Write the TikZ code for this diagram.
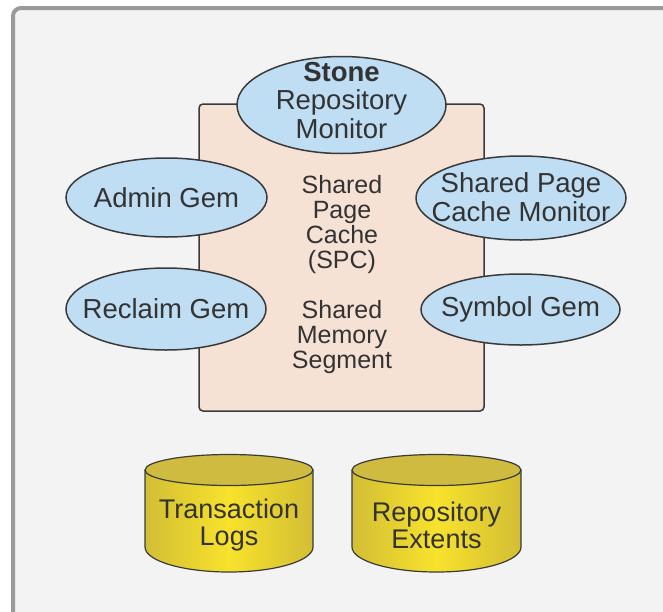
\documentclass[tikz,border=0pt]{standalone}
\usepackage{fontspec}
\setmainfont{Liberation Sans}
\usetikzlibrary{shapes.geometric}
\definecolor{bgc}{HTML}{F3F3F3}
\definecolor{framec}{HTML}{9A9A9A}
\definecolor{gemfill}{HTML}{BFDDF3}
\definecolor{edgec}{HTML}{3A3A3A}
\definecolor{txtc}{HTML}{333333}
\definecolor{spcfill}{HTML}{F6E1D5}
\definecolor{cyltop}{HTML}{CFBB40}
\definecolor{cylmid}{HTML}{F8E22C}
\definecolor{cyledge}{HTML}{D2BE35}
\tikzset{
  gem/.style={ellipse, draw=edgec, fill=gemfill, line width=1.5pt, inner sep=0pt},
  gemtext/.style={text=txtc, align=center, inner sep=0pt, font=\fontsize{27.5}{28.5}\selectfont},
  spcbox/.style={rectangle, draw=edgec, fill=spcfill, line width=1.5pt, rounded corners=4pt, inner sep=0pt},
  spctext/.style={text=txtc, align=center, inner sep=0pt, font=\fontsize{25}{25}\selectfont},
  cyltext/.style={text=txtc, align=center, inner sep=0pt, font=\fontsize{27}{27}\selectfont},
}
\newcommand\mycyl[3]{% left x, right x, name
  \pgfmathsetmacro\cxm{(#1+#2)/2}
  \pgfmathsetmacro\crx{(#2-#1)/2}
  \shade[left color=cyledge, right color=cyledge, middle color=cylmid]
    (#1,470) -- (#1,547) arc[start angle=180, end angle=360, x radius=\crx, y radius=-25] -- (#2,470) -- cycle;
  \draw[edgec, line width=1.2pt]
    (#1,470) -- (#1,547) arc[start angle=180, end angle=360, x radius=\crx, y radius=-25] -- (#2,470);
  \draw[edgec, line width=1.2pt, fill=cyltop] (\cxm,470) ellipse[x radius=\crx, y radius=15.5];
  \coordinate (#3) at (\cxm,525.5);
}
\begin{document}
\begin{tikzpicture}[x=1pt,y=-1pt]
\useasboundingbox (0,0) rectangle (663,611);
\draw[framec, line width=4pt, fill=bgc, rounded corners=8pt] (13,8) rectangle (690,640);

\node[spcbox, minimum width=285pt, minimum height=307pt] (spc) at (341.5,257.5) {};
\node[spctext] (spcl) at (342,224.5) {Shared\\Page\\Cache\\(SPC)};
\node[spctext] (shm) at (342,337) {Shared\\Memory\\Segment};

\node[gem, minimum width=209pt, minimum height=97pt] (stone) at (341.5,105) {};
\node[gemtext] (stonel) at (341.5,100.5) {\textbf{Stone}\\Repository\\Monitor};
\node[gem, minimum width=201pt, minimum height=79pt] (admin) at (166.5,197.5) {};
\node[gemtext] (adminl) at (166.5,198) {Admin Gem};
\node[gem, minimum width=200pt, minimum height=82pt] (reclaim) at (166,309) {};
\node[gemtext] (reclaiml) at (166,309) {Reclaim Gem};
\node[gem, minimum width=210pt, minimum height=84pt] (spcmon) at (521,198) {};
\node[gemtext] (spcmonl) at (521,197) {Shared Page\\Cache Monitor};
\node[gem, minimum width=199pt, minimum height=71pt] (symbol) at (520.5,309.5) {};
\node[gemtext] (symboll) at (520.5,309) {Symbol Gem};

\mycyl{145}{313}{tlc}
\node[cyltext] (tl) at (tlc) {Transaction\\Logs};
\mycyl{352}{521}{rec}
\node[cyltext] (re) at (rec) {Repository\\Extents};
\end{tikzpicture}
\end{document}
